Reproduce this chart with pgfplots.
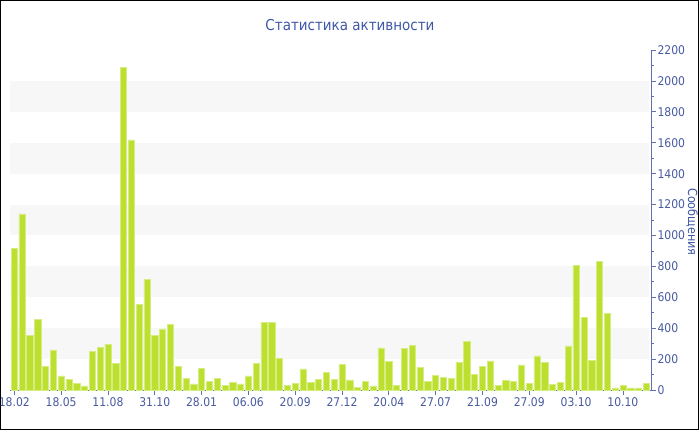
\documentclass[border=0pt]{standalone}
\usepackage{fontspec}
\setmainfont{DejaVu Sans Condensed}
\usepackage{pgfplots}
\pgfplotsset{compat=1.18}
\definecolor{titleblue}{RGB}{62,87,166}
\definecolor{tickblue}{RGB}{72,90,160}
\definecolor{axisblue}{RGB}{96,112,176}
\definecolor{barcol}{RGB}{189,224,48}
\definecolor{baredge}{RGB}{214,237,130}
\definecolor{band}{RGB}{247,247,247}
\begin{document}
\begin{tikzpicture}[x=1pt,y=1pt]
\useasboundingbox (0,0) rectangle (700,430);
\begin{axis}[
  at={(10pt,40pt)}, anchor=south west,
  scale only axis, width=641pt, height=340pt,
  xmin=-0.55, xmax=81.6, ymin=0, ymax=2200,
  axis x line*=bottom, axis y line*=right,
  axis line style={axisblue, line width=0.9pt},
  ytick={0,200,...,2200},
  minor y tick num=1,
  xtick={0,6,...,78},
  xticklabels={18.02,18.05,11.08,31.10,28.01,06.06,20.09,27.12,20.04,27.07,21.09,27.09,03.10,10.10},
  tick align=outside,
  major tick length=5pt, minor tick length=3pt,
  tick style={axisblue, line width=0.8pt},
  /pgf/number format/assume math mode=true,
  /pgf/number format/1000 sep={},
  ticklabel style={font=\fontsize{12}{14}\selectfont, text=tickblue},
  yticklabel style={anchor=west, xshift=-2pt},
  xticklabel style={yshift=1pt},
  ybar, bar width=6.2pt,
  clip=false,
]
\fill[band] (axis cs:-0.55,200) rectangle (axis cs:81.3,400);
\fill[band] (axis cs:-0.55,600) rectangle (axis cs:81.3,800);
\fill[band] (axis cs:-0.55,1000) rectangle (axis cs:81.3,1200);
\fill[band] (axis cs:-0.55,1400) rectangle (axis cs:81.3,1600);
\fill[band] (axis cs:-0.55,1800) rectangle (axis cs:81.3,2000);
\addplot[fill=barcol, draw=baredge, line width=0.6pt] coordinates {
(0,917) (1,1139) (2,354) (3,457) (4,155) (5,259) (6,91) (7,69) (8,43) (9,26)
(10,248) (11,276) (12,297) (13,173) (14,2089) (15,1618) (16,555) (17,716) (18,352) (19,395)
(20,427) (21,155) (22,75) (23,39) (24,142) (25,56) (26,75) (27,32) (28,47) (29,39)
(30,91) (31,172) (32,438) (33,438) (34,205) (35,32) (36,43) (37,136) (38,50) (39,69)
(40,114) (41,69) (42,166) (43,65) (44,17) (45,54) (46,26) (47,272) (48,183) (49,30)
(50,270) (51,287) (52,147) (53,58) (54,95) (55,82) (56,76) (57,179) (58,315) (59,101)
(60,153) (61,188) (62,32) (63,60) (64,54) (65,162) (66,43) (67,220) (68,181) (69,37)
(70,50) (71,285) (72,807) (73,470) (74,192) (75,831) (76,496) (77,13) (78,28) (79,13)
(80,13) (81,41)
};
\end{axis}
\node[text=titleblue, font=\fontsize{15}{18}\selectfont] at (350,405) {Статистика активности};
\node[text=titleblue, rotate=-90, font=\fontsize{12.5}{15}\selectfont] at (692,208) {Сообщения};
\draw[black, line width=1.2pt] (0.6,0.6) rectangle (698.6,429.4);
\end{tikzpicture}
\end{document}
